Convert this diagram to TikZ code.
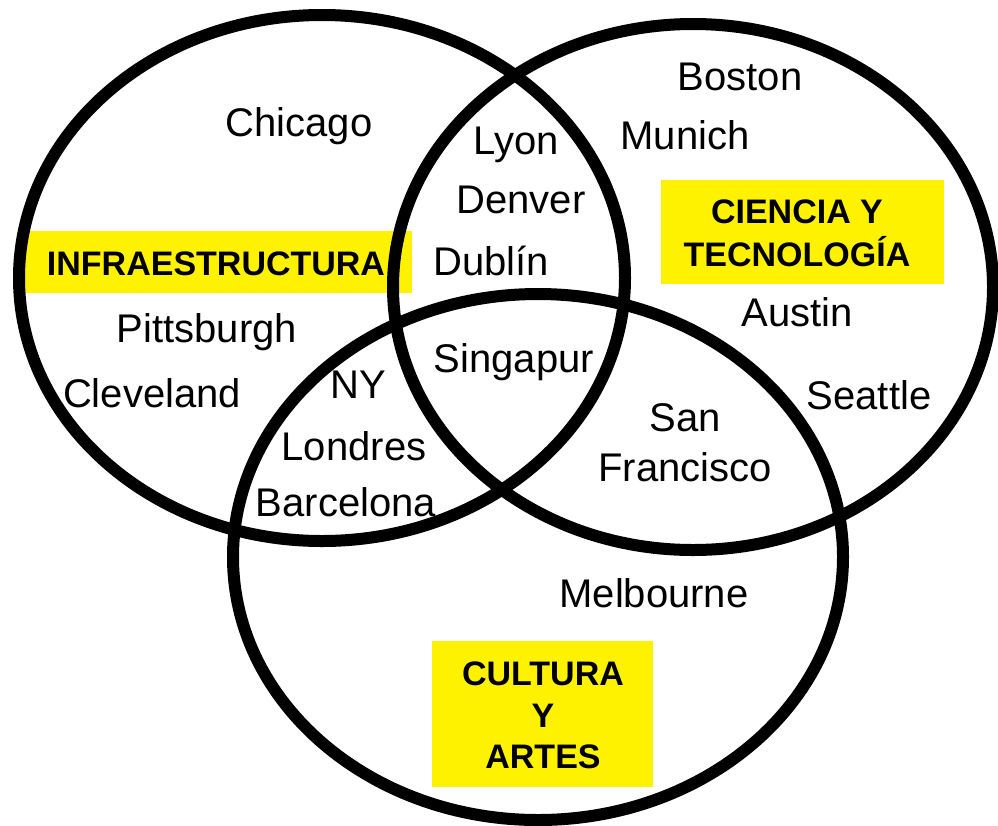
\documentclass[tikz,border=0pt]{standalone}
\usepackage{fontspec}
\setmainfont{Liberation Sans}
\begin{document}
\begin{tikzpicture}[x=1pt,y=-1pt,
  ring/.style={draw=black,line width=12pt},
  city/.style={font=\fontsize{40}{50}\selectfont,inner sep=0pt,anchor=base},
  ybox/.style={fill=yellow,draw=none,inner sep=0pt},
  cat/.style={font=\fontsize{34}{43}\selectfont\bfseries,inner sep=0pt,align=center}]
\useasboundingbox (0,0) rectangle (998,825);
% yellow category boxes
\node[ybox,minimum width=389pt,minimum height=62pt] (boxI) at (217.5,262) {};
\node[ybox,minimum width=283pt,minimum height=104pt] (boxC) at (802.5,232) {};
\node[ybox,minimum width=221pt,minimum height=146pt] (boxA) at (542.5,714) {};
% circles
\coordinate (cL) at (322,278);
\coordinate (cR) at (693,287);
\coordinate (cB) at (538,557);
\draw[ring] (cL) ellipse [x radius=303, y radius=263];
\draw[ring] (cR) ellipse [x radius=300, y radius=263];
\draw[ring] (cB) ellipse [x radius=305, y radius=263];
% category labels
\node[cat,anchor=base] (infra) at (216,275) {INFRAESTRUCTURA};
\node[cat,anchor=center] (ciencia) at (797,233.5) {CIENCIA Y\\TECNOLOGÍA};
\node[cat,anchor=center,font=\fontsize{34}{41.5}\selectfont\bfseries] (cultura) at (543,715.5) {CULTURA\\Y\\ARTES};
% cities
\node[city] (chicago) at (299,136) {Chicago};
\node[city] (lyon) at (516,154) {Lyon};
\node[city] (denver) at (521,213) {Denver};
\node[city] (dublin) at (491,275) {Dublín};
\node[city] (boston) at (740,90) {Boston};
\node[city] (munich) at (685,149) {Munich};
\node[city] (austin) at (797,326) {Austin};
\node[city] (seattle) at (869,409) {Seattle};
\node[city] (singapur) at (514,372) {Singapur};
\node[city] (pittsburgh) at (207,342) {Pittsburgh};
\node[city] (cleveland) at (152,407) {Cleveland};
\node[city] (ny) at (358,398) {NY};
\node[city] (londres) at (354,460) {Londres};
\node[city] (barcelona) at (346,516) {Barcelona};
\node[city] (melbourne) at (654,607) {Melbourne};
\node[city,anchor=center,align=center] (sanfran) at (685,443) {San\\Francisco};
\end{tikzpicture}
\end{document}
